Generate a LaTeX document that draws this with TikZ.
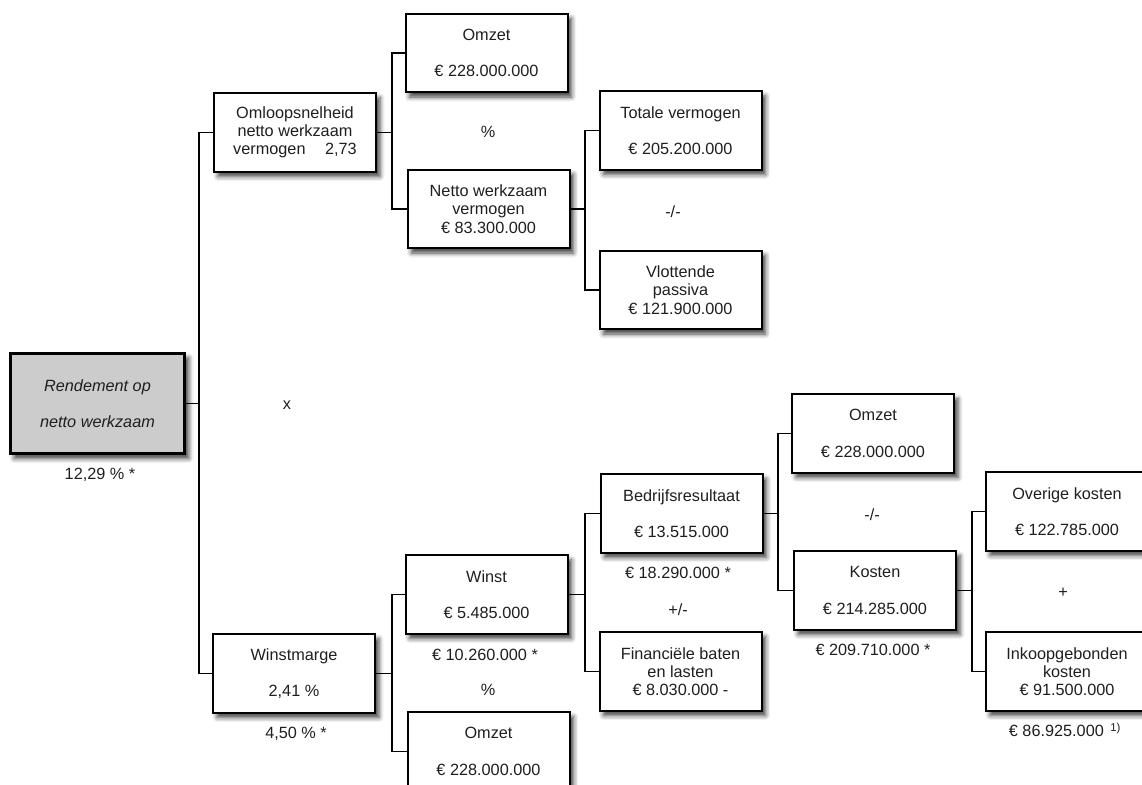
\documentclass[tikz,border=0pt]{standalone}
\usepackage{fontspec}
\setmainfont{Liberation Sans}
\usetikzlibrary{shadows.blur}
\begin{document}
\begin{tikzpicture}[x=0.75pt,y=-0.75pt,
  txt/.style={font=\fontsize{12.2}{13.7}\selectfont, inner sep=0pt, align=center, text=black!88},
  box/.style={txt, draw, line width=1.5pt, fill=white, minimum width=121.5pt, minimum height=59pt,
    blur shadow={shadow xshift=3pt, shadow yshift=-3.5pt, shadow blur radius=3.5pt, shadow opacity=75}},
  rootbox/.style={box, line width=2.3pt, fill=black!20, minimum width=131pt, minimum height=75.5pt,
    font=\fontsize{12.2}{13.7}\selectfont\itshape},
  conn/.style={line width=1.2pt}]
\useasboundingbox (0,0) rectangle (1142,785);
\clip (0,0) rectangle (1142,785);

% boxes
\node[rootbox] (root) at (97.5,403.5) {Rendement op\\[13.7pt]netto werkzaam};
\node[box] (omloop) at (295,132.5) {Omloopsnelheid\\netto werkzaam\\vermogen\hspace{1.2em}2,73};
\node[box] (omzetA) at (486.5,53) {Omzet\\[13.7pt]€ 228.000.000};
\node[box] (netto) at (488.5,209) {Netto werkzaam\\vermogen\\€ 83.300.000};
\node[box] (totale) at (680.5,130.5) {Totale vermogen\\[13.7pt]€ 205.200.000};
\node[box] (vlottende) at (680.5,290) {Vlottende\\passiva\\€ 121.900.000};
\node[box] (winstmarge) at (294,673.5) {Winstmarge\\[13.7pt]2,41 \%};
\node[box] (winst) at (486.5,594.5) {Winst\\[13.7pt]€ 5.485.000};
\node[box] (omzetB) at (488.5,751.5) {Omzet\\[13.7pt]€ 228.000.000};
\node[box] (bedrijf) at (681.5,513.5) {Bedrijfsresultaat\\[13.7pt]€ 13.515.000};
\node[box] (finan) at (680.5,671.5) {Financiële baten\\en lasten\\€ 8.030.000 -};
\node[box] (omzetC) at (873,433.5) {Omzet\\[13.7pt]€ 228.000.000};
\node[box] (kosten) at (875,590.5) {Kosten\\[13.7pt]€ 214.285.000};
\node[box] (overige) at (1067,511.5) {Overige kosten\\[13.7pt]€ 122.785.000};
\node[box] (inkoop) at (1067,671.5) {Inkoopgebonden\\kosten\\€ 91.500.000};

% bracket positions (only their x is used)
\coordinate (b0) at (199,402);
\coordinate (b1) at (392,134);
\coordinate (b2) at (585,211);
\coordinate (b3) at (392,675);
\coordinate (b4) at (585,592);
\coordinate (b5) at (778,515);
\coordinate (b6) at (972,592);

% connectors
\draw[conn] (root.east) -- (root.east -| b0);
\draw[conn] (omloop.west) -| (b0) |- (winstmarge.west);
\draw[conn] (omloop.east) -- (omloop.east -| b1);
\draw[conn] (omzetA.west) -| (b1) |- (netto.west);
\draw[conn] (netto.east) -- (netto.east -| b2);
\draw[conn] (totale.west) -| (b2) |- (vlottende.west);
\draw[conn] (winstmarge.east) -- (winstmarge.east -| b3);
\draw[conn] (winst.west) -| (b3) |- (omzetB.west);
\draw[conn] (winst.east) -- (winst.east -| b4);
\draw[conn] (bedrijf.west) -| (b4) |- (finan.west);
\draw[conn] (bedrijf.east) -- (bedrijf.east -| b5);
\draw[conn] (omzetC.west) -| (b5) |- (kosten.west);
\draw[conn] (kosten.east) -- (kosten.east -| b6);
\draw[conn] (overige.west) -| (b6) |- (inkoop.west);

% free labels
\node[txt] (l1) at (100,475) {12,29 \% *};
\node[txt] (l2) at (488,132) {\%};
\node[txt] (l3) at (673,212) {-/-};
\node[txt] (l4) at (287,405) {x};
\node[txt] (l5) at (296,734) {4,50 \% *};
\node[txt] (l6) at (485,655) {€ 10.260.000 *};
\node[txt] (l7) at (488,690) {\%};
\node[txt] (l8) at (678,573) {€ 18.290.000 *};
\node[txt] (l9) at (678,610) {+/-};
\node[txt] (l10) at (872,515) {-/-};
\node[txt] (l11) at (873,650) {€ 209.710.000 *};
\node[txt] (l12) at (1063,593) {+};
\node[txt] (l13) at (1065,730) {€ 86.925.000 \textsuperscript{\,1)}};
\end{tikzpicture}
\end{document}
